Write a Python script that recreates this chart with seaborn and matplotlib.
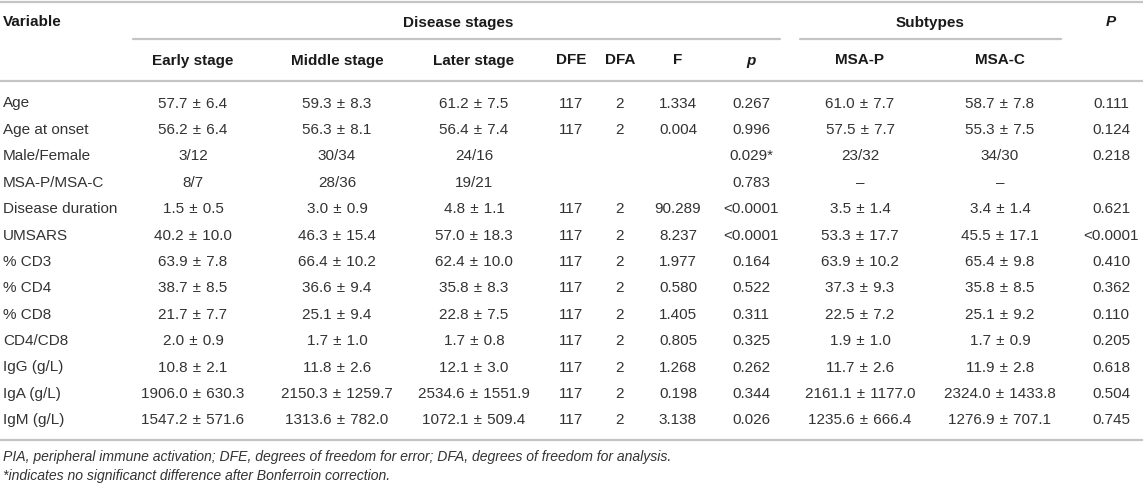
import matplotlib
matplotlib.use("Agg")
import matplotlib.pyplot as plt
import seaborn as sns

sns.set_theme(style="white")
plt.rcParams['font.family'] = ['Liberation Sans', 'DejaVu Sans']

# ---- data ----
variables = ["Age", "Age at onset", "Male/Female", "MSA-P/MSA-C", "Disease duration",
             "UMSARS", "% CD3", "% CD4", "% CD8", "CD4/CD8", "IgG (g/L)", "IgA (g/L)", "IgM (g/L)"]
early = ["57.7 ± 6.4", "56.2 ± 6.4", "3/12", "8/7", "1.5 ± 0.5", "40.2 ± 10.0", "63.9 ± 7.8",
         "38.7 ± 8.5", "21.7 ± 7.7", "2.0 ± 0.9", "10.8 ± 2.1", "1906.0 ± 630.3", "1547.2 ± 571.6"]
middle = ["59.3 ± 8.3", "56.3 ± 8.1", "30/34", "28/36", "3.0 ± 0.9", "46.3 ± 15.4", "66.4 ± 10.2",
          "36.6 ± 9.4", "25.1 ± 9.4", "1.7 ± 1.0", "11.8 ± 2.6", "2150.3 ± 1259.7", "1313.6 ± 782.0"]
later = ["61.2 ± 7.5", "56.4 ± 7.4", "24/16", "19/21", "4.8 ± 1.1", "57.0 ± 18.3", "62.4 ± 10.0",
         "35.8 ± 8.3", "22.8 ± 7.5", "1.7 ± 0.8", "12.1 ± 3.0", "2534.6 ± 1551.9", "1072.1 ± 509.4"]
dfe = ["117", "117", "", "", "117", "117", "117", "117", "117", "117", "117", "117", "117"]
dfa = ["2", "2", "", "", "2", "2", "2", "2", "2", "2", "2", "2", "2"]
f_vals = ["1.334", "0.004", "", "", "90.289", "8.237", "1.977", "0.580", "1.405", "0.805",
          "1.268", "0.198", "3.138"]
p_stage = ["0.267", "0.996", "0.029*", "0.783", "<0.0001", "<0.0001", "0.164", "0.522", "0.311",
           "0.325", "0.262", "0.344", "0.026"]
msa_p = ["61.0 ± 7.7", "57.5 ± 7.7", "23/32", "–", "3.5 ± 1.4", "53.3 ± 17.7", "63.9 ± 10.2",
         "37.3 ± 9.3", "22.5 ± 7.2", "1.9 ± 1.0", "11.7 ± 2.6", "2161.1 ± 1177.0", "1235.6 ± 666.4"]
msa_c = ["58.7 ± 7.8", "55.3 ± 7.5", "34/30", "–", "3.4 ± 1.4", "45.5 ± 17.1", "65.4 ± 9.8",
         "35.8 ± 8.5", "25.1 ± 9.2", "1.7 ± 0.9", "11.9 ± 2.8", "2324.0 ± 1433.8", "1276.9 ± 707.1"]
p_sub = ["0.111", "0.124", "0.218", "", "0.621", "<0.0001", "0.410", "0.362", "0.110", "0.205",
         "0.618", "0.504", "0.745"]

sub_headers = ["Early stage", "Middle stage", "Later stage", "DFE", "DFA", "F", "p", "MSA-P", "MSA-C"]
group_headers = ["Disease stages", "Subtypes"]
footnotes = ["PIA, peripheral immune activation; DFE, degrees of freedom for error; DFA, degrees of freedom for analysis.",
             "*indicates no significanct difference after Bonferroin correction."]

# ---- layout (pixels) ----
W, H = 1143, 489
fig = plt.figure(figsize=(W / 100, H / 100), dpi=100)
ax = fig.add_axes([0, 0, 1, 1])
ax.set_xlim(0, W)
ax.set_ylim(H, 0)
ax.axis("off")

col_x = [193, 337, 474, 571, 620, 678, 751, 860, 1000, 1111]
fs = 11
txt = "#333333"
hdr = "#1a1a1a"
line_c = "#c4c4c4"

# lines
ax.plot([0, W], [3, 3], color=line_c, lw=1.6)
ax.plot([133, 780], [40, 40], color=line_c, lw=1.6)
ax.plot([800, 1061], [40, 40], color=line_c, lw=1.6)
ax.plot([0, W], [81.5, 81.5], color=line_c, lw=1.6)
ax.plot([0, W], [441, 441], color=line_c, lw=1.6)

# header
y1, y2 = 22.5, 60.5
ax.text(3, y1, "Variable", ha="left", va="center", fontsize=fs, fontweight="bold", color=hdr)
ax.text(458, y1, group_headers[0], ha="center", va="center", fontsize=fs, fontweight="bold", color=hdr)
ax.text(930, y1, group_headers[1], ha="center", va="center", fontsize=fs, fontweight="bold", color=hdr)
ax.text(col_x[9], y1, "P", ha="center", va="center", fontsize=fs, fontweight="bold",
        style="italic", color=hdr)
for i, h in enumerate(sub_headers):
    ax.text(col_x[i], y2, h, ha="center", va="center", fontsize=fs, fontweight="bold",
            style="italic" if h == "p" else "normal", color=hdr)

# body
cols = [early, middle, later, dfe, dfa, f_vals, p_stage, msa_p, msa_c, p_sub]
y0, dy = 103.5, 26.4
for r, var in enumerate(variables):
    y = y0 + r * dy
    ax.text(3, y, var, ha="left", va="center", fontsize=fs, color=txt)
    for c, col in enumerate(cols):
        if col[r]:
            s = col[r].replace(" ± ", "\u2004±\u2004")
            ax.text(col_x[c], y, s, ha="center", va="center", fontsize=fs, color=txt)

# footnotes
ax.text(3, 457, footnotes[0], ha="left", va="center", fontsize=10.1, style="italic", color=txt)
ax.text(3, 476, footnotes[1], ha="left", va="center", fontsize=10.1, style="italic", color=txt)

fig.savefig("out.png", dpi=100)
